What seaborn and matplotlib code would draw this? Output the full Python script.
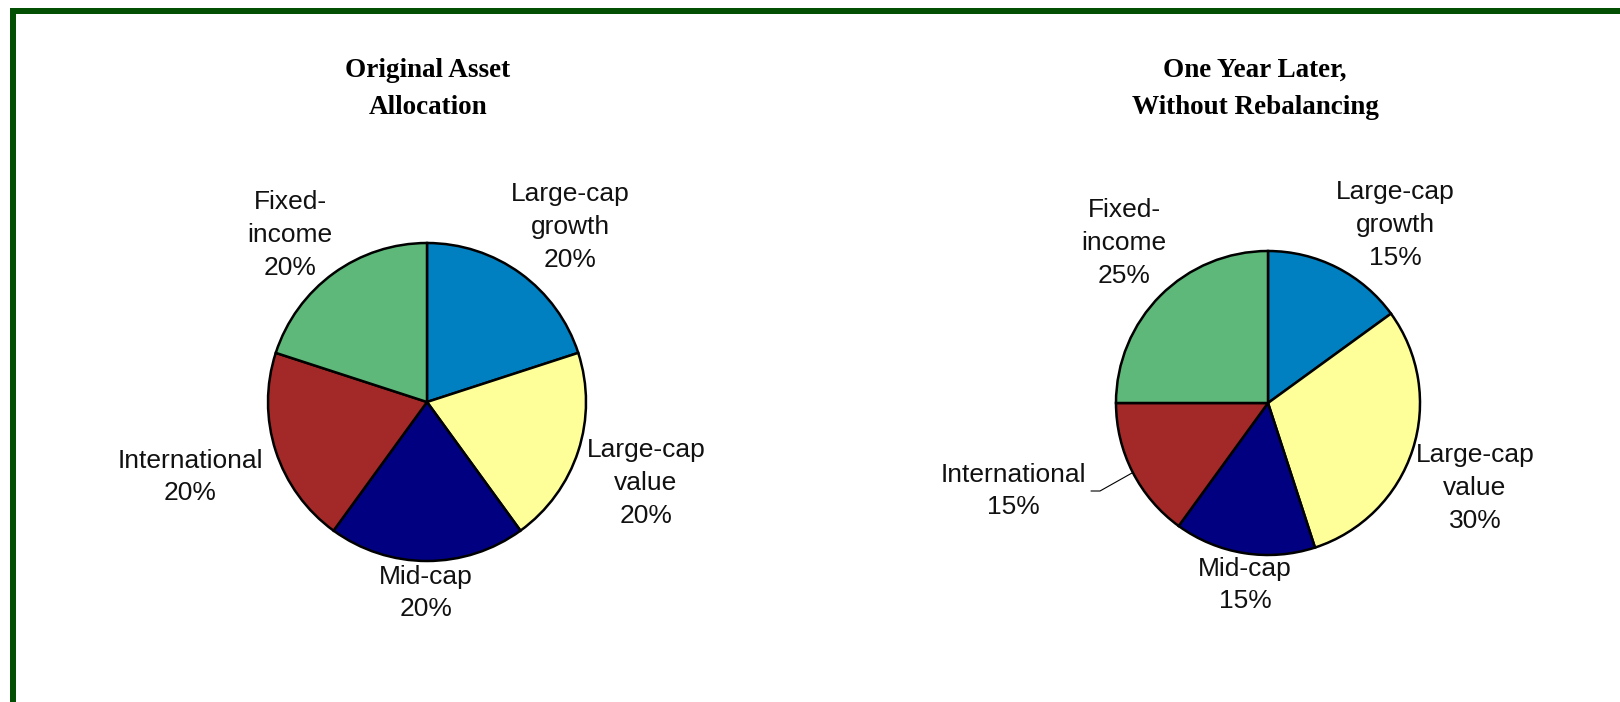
import numpy as np
import matplotlib
matplotlib.use("Agg")
import matplotlib.pyplot as plt
from matplotlib.patches import Rectangle
import seaborn as sns

# data
categories = ["Large-cap\ngrowth", "Large-cap\nvalue", "Mid-cap", "International", "Fixed-\nincome"]
original = [20, 20, 20, 20, 20]
one_year = [15, 30, 15, 15, 25]
titles = ["Original Asset\nAllocation", "One Year Later,\nWithout Rebalancing"]

slice_colors = ["#0080C0", "#FFFF99", "#000080", "#A32828", "#5DB87A"]

sns.set_theme(style="white")
plt.rcParams['font.family'] = ['Liberation Sans', 'DejaVu Sans']

W, H = 1620, 702
fig = plt.figure(figsize=(W / 100, H / 100), dpi=100)
fig.patch.set_facecolor("white")

# pie layout in pixel units (y measured from top)
pies = [
    dict(values=original, center=(427, 402), radius=159, title_x=428,
         label_pos=[(570, 227), (646, 483), (426, 593), (190, 477), (290, 235)]),
    dict(values=one_year, center=(1268, 403), radius=152, title_x=1255,
         label_pos=[(1395, 225), (1475, 488), (1245, 585), (1013, 491), (1124, 243)]),
]

ax = fig.add_axes([0, 0, 1, 1])
palette = sns.color_palette(slice_colors)

for p, title in zip(pies, titles):
    cx, cy = p["center"]
    ax.pie(p["values"], colors=palette, startangle=90, counterclock=False,
           center=(cx, H - cy), radius=p["radius"], frame=True,
           wedgeprops=dict(edgecolor="black", linewidth=1.8))
    for (lx, ly), cat, val in zip(p["label_pos"], categories, p["values"]):
        ax.text(lx, H - ly, f"{cat}\n{val}%", ha="center", va="center",
                fontsize=19, color="#111111", linespacing=1.45)
    ax.text(p["title_x"], H - 89, title, ha="center", va="center",
            fontsize=19.5, fontweight="bold", family="Liberation Serif",
            linespacing=1.65, color="black")

ax.set_xlim(0, W)
ax.set_ylim(0, H)
ax.set_aspect("equal")
ax.axis("off")

# leader line for International on the second pie
ax.plot([1091, 1100, 1132], [H - 491, H - 491, H - 473], color="black", lw=0.8)

# green frame (top and left only)
fig.add_artist(Rectangle((10 / W, 0), 6 / W, (H - 8) / H,
                         transform=fig.transFigure, color="#034F03", lw=0))
fig.add_artist(Rectangle((10 / W, (H - 14) / H), (W - 10) / W, 6 / H,
                         transform=fig.transFigure, color="#034F03", lw=0))

fig.savefig("out.png", dpi=100, facecolor="white")
